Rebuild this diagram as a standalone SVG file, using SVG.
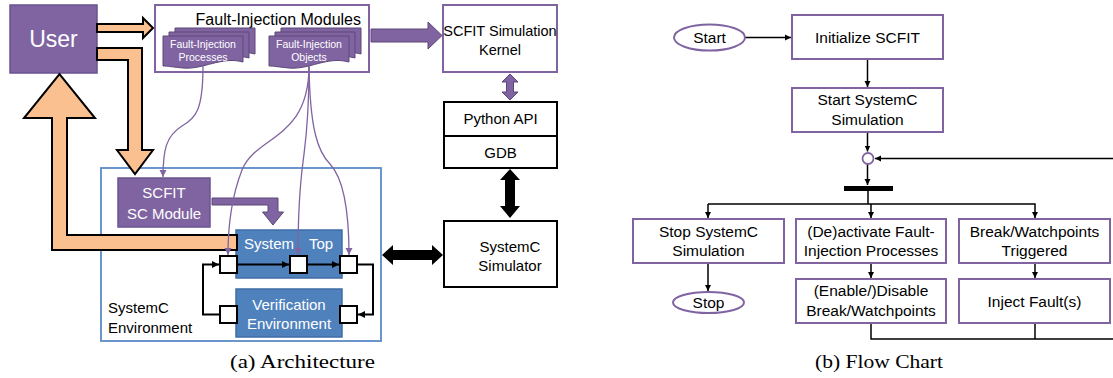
<svg xmlns="http://www.w3.org/2000/svg" width="1113" height="378" viewBox="0 0 1113 378">
<style>
text{font-family:"Liberation Sans",Arial,sans-serif;}
.w{fill:#fff;}
.k{fill:#000;}
.c{text-anchor:middle;}
.pbox{fill:#8064A2;stroke:#6a5290;stroke-width:1.5;}
.bbox{fill:#4F81BD;stroke:#3f6ea6;stroke-width:1.5;}
.wbox{fill:#fff;stroke:#8064A2;stroke-width:2;}
.kbox{fill:#fff;stroke:#000;stroke-width:2;}
.port{fill:#fff;stroke:#000;stroke-width:2;}
.orange{fill:#FAC090;stroke:#000;stroke-width:2;stroke-linejoin:miter;}
.parrow{fill:#8064A2;stroke:#5c4776;stroke-width:1;}
.karrow{fill:#000;}
.pline{fill:none;stroke:#8064A2;stroke-width:1.3;marker-end:url(#pa);}
.kline{fill:none;stroke:#000;stroke-width:2;marker-end:url(#ka);}
.fline{fill:none;stroke:#000;stroke-width:1.5;}
.farr{marker-end:url(#fa);}
.doc{fill:#8064A2;stroke:#5c4776;stroke-width:1;}
.cap{font-family:"Liberation Serif","Times New Roman",serif;font-size:18px;}
</style>
<defs>
<marker id="pa" markerUnits="userSpaceOnUse" markerWidth="8" markerHeight="8" refX="7" refY="4" orient="auto"><path d="M0,0.5 L7,4 L0,7.5 z" fill="#8064A2"/></marker>
<marker id="ka" markerUnits="userSpaceOnUse" markerWidth="8" markerHeight="8" refX="7" refY="4" orient="auto"><path d="M0,0.5 L7,4 L0,7.5 z" fill="#000"/></marker>
<marker id="fa" markerUnits="userSpaceOnUse" markerWidth="7" markerHeight="7" refX="6" refY="3.5" orient="auto"><path d="M0,0.5 L6,3.5 L0,6.5 z" fill="#000"/></marker>
<path id="docshape" d="M0,0 H80 V26 C58,20 40,34 20,32 C10,31 4,30 0,30 Z"/>
</defs>

<!-- Architecture (a) -->
<g id="env">
<rect x="101" y="168" width="280" height="173" fill="none" stroke="#5b8bc7" stroke-width="1.8"/>
<text x="108" y="313" class="k" font-size="15">SystemC</text>
<text x="108" y="333" class="k" font-size="15">Environment</text>
</g>

<g id="user">
<rect x="10" y="5" width="87" height="68" class="pbox"/>
<text x="53.5" y="47" class="w c" font-size="23">User</text>
</g>

<g id="fim">
<rect x="155" y="5" width="214" height="67" class="wbox"/>
<text x="361" y="25" class="k" font-size="16" text-anchor="end">Fault-Injection Modules</text>
</g>

<g id="fip">
<use href="#docshape" x="175" y="28" class="doc"/>
<use href="#docshape" x="169" y="32" class="doc"/>
<use href="#docshape" x="163" y="36" class="doc"/>
<text x="203" y="47.5" class="w c" font-size="10.5">Fault-Injection</text>
<text x="203" y="61" class="w c" font-size="10.5">Processes</text>
</g>

<g id="fio">
<use href="#docshape" x="281" y="28" class="doc"/>
<use href="#docshape" x="275" y="32" class="doc"/>
<use href="#docshape" x="269" y="36" class="doc"/>
<text x="309" y="47.5" class="w c" font-size="10.5">Fault-Injection</text>
<text x="309" y="61" class="w c" font-size="10.5">Objects</text>
</g>

<g id="kernel">
<rect x="443" y="5" width="114" height="67" class="wbox"/>
<text x="500" y="36" class="k c" font-size="14.5">SCFIT Simulation</text>
<text x="500" y="55" class="k c" font-size="14.5">Kernel</text>
</g>

<g id="pyapi">
<rect x="444" y="102" width="113" height="66" class="kbox"/>
<line x1="444" y1="136" x2="557" y2="136" stroke="#000" stroke-width="2"/>
<text x="500.5" y="124" class="k c" font-size="15">Python API</text>
<text x="500.5" y="158" class="k c" font-size="15">GDB</text>
</g>

<g id="simulator">
<rect x="444" y="221" width="113" height="66" class="kbox"/>
<text x="510" y="252" class="k c" font-size="15">SystemC</text>
<text x="510" y="271" class="k c" font-size="15">Simulator</text>
</g>

<g id="scmodule">
<rect x="118" y="178" width="92" height="49" class="pbox"/>
<text x="164" y="198" class="w c" font-size="15">SCFIT</text>
<text x="164" y="219" class="w c" font-size="15">SC Module</text>
</g>

<g id="systemtop">
<rect x="236" y="230" width="106" height="48" class="bbox"/>
<text x="244" y="249" class="w" font-size="15">System</text>
<text x="309" y="249" class="w" font-size="15">Top</text>
</g>

<g id="verif">
<rect x="236" y="289" width="106" height="48" class="bbox"/>
<text x="289" y="310" class="w c" font-size="15">Verification</text>
<text x="289" y="329" class="w c" font-size="15">Environment</text>
</g>

<g id="ports">
<rect x="220" y="256" width="17" height="17" class="port"/>
<rect x="290" y="256" width="17" height="17" class="port"/>
<rect x="340" y="256" width="17" height="17" class="port"/>
<rect x="220" y="306" width="17" height="17" class="port"/>
<rect x="340" y="306" width="17" height="17" class="port"/>
</g>

<g id="connectors">
<polygon class="orange" points="97,24 143,24 143,18 153,28 143,38 143,32 97,32"/>
<polygon class="orange" points="97,48 142,48 142,150 153,150 135,174 117,150 128,150 128,60 97,60"/>
<polygon class="orange" points="237,235 67,235 67,118 95,118 59.5,74 24,118 52,118 52,250 237,250"/>
<polygon class="parrow" points="371,29 428,29 428,22 442,35.5 428,49 428,42 371,42"/>
<polygon class="parrow" points="510,74 518,82 513.5,82 513.5,92 518,92 510,100 502,92 506.5,92 506.5,82 502,82"/>
<polygon class="parrow" points="212,198 278,198 278,212 283.5,212 273,225 262.5,212 268,212 268,205 212,205"/>
<polygon class="karrow" points="510,169 520,180 515,180 515,206 520,206 510,218 500,206 505,206 505,180 500,180"/>
<polygon class="karrow" points="382,255 393,245 393,250 432,250 432,245 443,255 432,265 432,260 393,260 393,265"/>
<path class="pline" d="M203,66 C203,110 196,118 182,126 C166,136 163,150 163,177"/>
<path class="pline" d="M309,66 C309,140 256,135 242,170 C231,198 228,225 228,255"/>
<path class="pline" d="M309,66 C309,125 305,145 303,162 C300,185 298,220 298,255"/>
<path class="pline" d="M309,66 C310,130 318,152 330,164 C345,180 349,220 349,255"/>
<path class="kline" d="M237,264.5 H289"/>
<path class="kline" d="M307,264.5 H339"/>
<path class="kline" d="M357,264.5 H373 V314.5 H358"/>
<path class="kline" d="M220,314.5 H203 V264.5 H219"/>
<path class="fline farr" d="M745,37.5 H791"/>
<path class="fline farr" d="M867.5,59 V87"/>
<path class="fline farr" d="M867.5,132 V151.5"/>
<path class="fline farr" d="M867.5,164 V185"/>
<path class="fline" d="M868,191 V204"/>
<path class="fline farr" d="M708,204 H1035 V218"/>
<path class="fline farr" d="M708,204 V218"/>
<path class="fline farr" d="M871,204 V218"/>
<path class="fline farr" d="M708,263 V291"/>
<path class="fline farr" d="M871,263 V278"/>
<path class="fline farr" d="M1035,263 V278"/>
<path class="fline" d="M1035,323 V339"/>
<path class="fline farr" d="M871,323 V339 H1114 V158.5 H875"/>
</g>

<g id="start">
<ellipse cx="709.5" cy="37.5" rx="35.5" ry="13" class="wbox"/>
<text x="709.5" y="43" class="k c" font-size="15.5">Start</text>
</g>
<g id="init">
<rect x="792" y="15" width="151" height="44" class="wbox"/>
<text x="867.5" y="43" class="k c" font-size="15.5">Initialize SCFIT</text>
</g>
<g id="startsim">
<rect x="792" y="88" width="151" height="44" class="wbox"/>
<text x="867.5" y="105" class="k c" font-size="15.5">Start SystemC</text>
<text x="867.5" y="125" class="k c" font-size="15.5">Simulation</text>
</g>
<g id="merge">
<circle cx="868" cy="158.5" r="5.5" fill="#fff" stroke="#8064A2" stroke-width="1.8"/>
</g>
<g id="fork">
<rect x="844" y="186" width="49" height="5" fill="#000"/>
</g>
<g id="stopsim">
<rect x="633" y="219" width="151" height="44" class="wbox"/>
<text x="708.5" y="236.5" class="k c" font-size="15.5">Stop SystemC</text>
<text x="708.5" y="256" class="k c" font-size="15.5">Simulation</text>
</g>
<g id="deactivate">
<rect x="796" y="219" width="150" height="44" class="wbox"/>
<text x="871" y="236.5" class="k c" font-size="15.5">(De)activate Fault-</text>
<text x="871" y="256" class="k c" font-size="15.5">Injection Processes</text>
</g>
<g id="triggered">
<rect x="959" y="219" width="151" height="44" class="wbox"/>
<text x="1034.5" y="236.5" class="k c" font-size="15.5">Break/Watchpoints</text>
<text x="1034.5" y="256" class="k c" font-size="15.5">Triggered</text>
</g>
<g id="stop">
<ellipse cx="708.5" cy="302.5" rx="35.5" ry="10.5" class="wbox"/>
<text x="708.5" y="308" class="k c" font-size="15.5">Stop</text>
</g>
<g id="disable">
<rect x="796" y="279" width="150" height="44" class="wbox"/>
<text x="871" y="296" class="k c" font-size="15.5">(Enable/)Disable</text>
<text x="871" y="316" class="k c" font-size="15.5">Break/Watchpoints</text>
</g>
<g id="inject">
<rect x="959" y="279" width="151" height="44" class="wbox"/>
<text x="1034.5" y="307" class="k c" font-size="15.5">Inject Fault(s)</text>
</g>

<g id="captions">
<text x="230" y="368" class="cap k" textLength="145" lengthAdjust="spacingAndGlyphs">(a) Architecture</text>
<text x="815" y="368" class="cap k" textLength="128" lengthAdjust="spacingAndGlyphs">(b) Flow Chart</text>
</g>
</svg>
